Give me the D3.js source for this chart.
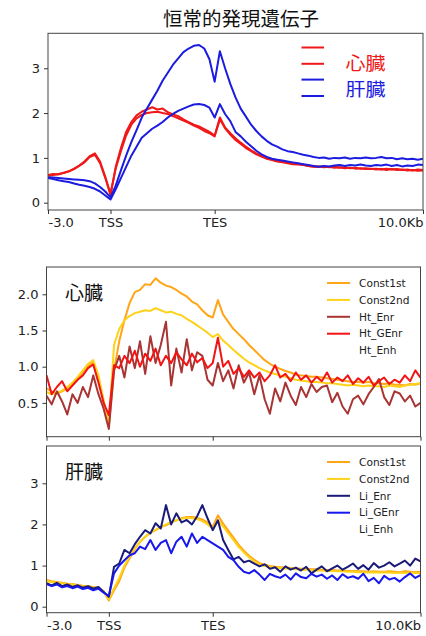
<!DOCTYPE html>
<html>
<head>
<meta charset="utf-8">
<script src="https://cdn.jsdelivr.net/npm/d3@7"></script>
<style>
  body { margin: 0; background: #fff; }
  svg { display: block; }
  .tick text { font-family: "DejaVu Sans", sans-serif; font-size: 13px; fill: #222; }
  .tick line { stroke: #333; }
</style>
</head>
<body>
<svg id="chart" width="426" height="636"></svg>
<script>
// bins (kb) -3 .. 15, step 0.25; TSS = 0, TES = 5
var bins = d3.range(73).map(function(i) { return -3 + i * 0.25; });
var xTickVals = [-3, 0, 5, 15];
var xTickLabels = ["-3.0", "TSS", "TES", "10.0Kb"];

// top panel : 心臓 (red) / 肝臓 (blue)
var topHeart1 = [0.62,0.64,0.63,0.67,0.70,0.75,0.82,0.90,1.02,1.07,0.88,0.55,0.17,0.80,1.22,1.58,
  1.80,1.95,2.03,2.08,2.13,2.08,2.10,2.02,1.97,1.93,1.86,1.80,1.74,1.70,1.64,1.58,
  1.50,1.90,1.68,1.55,1.44,1.34,1.25,1.17,1.10,1.05,1.00,0.96,0.93,0.92,0.90,0.88,
  0.87,0.85,0.82,0.80,0.81,0.79,0.80,0.78,0.79,0.77,0.78,0.76,0.77,0.75,0.76,0.74,
  0.75,0.73,0.75,0.73,0.74,0.72,0.73,0.71,0.72];
var topHeart2 = [0.60,0.62,0.64,0.66,0.70,0.76,0.83,0.92,1.04,1.10,0.92,0.58,0.20,0.76,1.15,1.50,
  1.74,1.88,1.96,2.00,2.02,2.03,2.00,1.98,1.93,1.88,1.83,1.78,1.72,1.67,1.60,1.55,
  1.48,1.86,1.66,1.52,1.40,1.31,1.22,1.15,1.08,1.03,0.98,0.95,0.92,0.90,0.88,0.86,
  0.85,0.84,0.82,0.81,0.80,0.81,0.79,0.80,0.78,0.79,0.77,0.78,0.76,0.77,0.75,0.76,
  0.74,0.76,0.74,0.75,0.73,0.74,0.72,0.74,0.73];
var topLiver1 = [0.57,0.56,0.55,0.54,0.53,0.52,0.51,0.50,0.48,0.43,0.35,0.25,0.12,0.38,0.72,1.05,
  1.35,1.62,1.90,2.10,2.30,2.50,2.72,2.90,3.08,3.22,3.36,3.44,3.50,3.52,3.44,3.20,
  2.70,3.38,3.00,2.65,2.35,2.10,1.92,1.74,1.60,1.48,1.38,1.30,1.25,1.19,1.15,1.13,
  1.10,1.07,1.05,1.02,1.00,1.01,0.98,1.00,0.99,1.01,0.98,1.00,0.99,1.01,0.99,1.00,
  1.02,0.99,1.00,0.97,0.99,0.97,0.98,0.96,0.98];
var topLiver2 = [0.55,0.53,0.50,0.48,0.46,0.43,0.40,0.38,0.35,0.31,0.25,0.16,0.07,0.30,0.55,0.80,
  1.05,1.25,1.45,1.55,1.65,1.72,1.80,1.90,1.98,2.05,2.10,2.15,2.19,2.20,2.18,2.12,
  1.90,2.20,1.98,1.82,1.58,1.48,1.36,1.26,1.16,1.08,1.02,0.98,0.96,0.94,0.92,0.90,
  0.88,0.86,0.84,0.82,0.80,0.82,0.81,0.83,0.84,0.82,0.84,0.83,0.85,0.83,0.82,0.84,
  0.83,0.85,0.82,0.84,0.81,0.83,0.82,0.85,0.84];

// middle panel : 心臓
var htConst1st = [0.70,0.66,0.63,0.66,0.70,0.75,0.84,0.93,1.01,1.06,0.85,0.52,0.19,0.95,1.35,1.64,
  1.88,2.03,2.06,2.14,2.13,2.22,2.16,2.12,2.10,2.06,2.01,1.97,1.90,1.86,1.78,1.71,
  1.68,1.92,1.72,1.62,1.52,1.45,1.38,1.30,1.23,1.16,1.09,1.04,1.00,0.97,0.94,0.92,
  0.89,0.88,0.87,0.86,0.86,0.85,0.84,0.83,0.82,0.81,0.80,0.79,0.79,0.78,0.79,0.77,
  0.77,0.76,0.77,0.75,0.75,0.74,0.76,0.75,0.77];
var htConst2nd = [0.65,0.62,0.64,0.67,0.72,0.78,0.86,0.95,1.04,1.09,0.88,0.54,0.17,1.30,1.52,1.64,
  1.70,1.74,1.76,1.78,1.77,1.81,1.78,1.75,1.76,1.73,1.71,1.66,1.62,1.57,1.52,1.47,
  1.41,1.45,1.36,1.30,1.23,1.17,1.11,1.06,1.02,0.98,0.95,0.92,0.90,0.88,0.86,0.84,
  0.82,0.81,0.80,0.79,0.79,0.78,0.77,0.77,0.76,0.75,0.74,0.75,0.74,0.73,0.74,0.73,
  0.73,0.72,0.74,0.73,0.72,0.74,0.75,0.76,0.77];
var htEnr = [0.60,0.48,0.66,0.52,0.34,0.62,0.50,0.72,0.58,0.88,0.62,0.42,0.14,0.95,1.15,0.85,
  1.28,0.98,1.35,0.90,1.42,1.05,1.30,1.62,0.74,1.25,0.92,1.38,0.95,1.20,1.15,0.82,
  0.74,1.05,0.80,0.95,0.70,1.02,0.78,0.92,0.62,0.88,0.55,0.35,0.70,0.52,0.78,0.60,
  0.47,0.72,0.58,0.76,0.65,0.72,0.74,0.51,0.64,0.45,0.35,0.55,0.60,0.48,0.62,0.72,
  0.83,0.58,0.47,0.66,0.63,0.52,0.60,0.45,0.50];
var htGEnr = [0.88,0.62,0.72,0.80,0.66,0.74,0.82,0.88,0.98,1.03,0.78,0.50,0.33,1.02,0.98,1.15,
  1.05,1.22,1.00,1.18,1.08,1.25,1.02,1.15,1.05,1.20,1.10,1.02,1.18,1.06,1.12,0.98,
  1.05,1.40,1.00,1.08,0.90,0.98,0.86,0.95,0.85,0.92,0.80,0.88,1.02,0.85,0.90,0.80,
  0.92,0.82,0.88,0.78,0.86,0.80,0.92,0.78,0.85,0.80,0.88,0.76,0.84,0.78,0.86,0.74,
  0.80,0.85,0.76,0.82,0.78,0.88,0.80,0.95,0.85];

// bottom panel : 肝臓
var liConst1st = [0.65,0.62,0.60,0.58,0.56,0.55,0.53,0.51,0.50,0.48,0.46,0.38,0.15,0.40,0.62,0.95,
  1.18,1.40,1.58,1.70,1.80,1.86,1.94,1.98,2.05,2.10,2.15,2.18,2.18,2.16,2.12,2.05,
  1.94,2.22,2.02,1.85,1.68,1.50,1.36,1.24,1.14,1.06,1.02,0.99,0.97,0.96,0.95,0.94,
  0.93,0.92,0.92,0.91,0.91,0.90,0.89,0.89,0.88,0.88,0.87,0.87,0.86,0.86,0.85,0.86,
  0.85,0.85,0.86,0.85,0.84,0.86,0.85,0.84,0.85];
var liConst2nd = [0.62,0.60,0.58,0.57,0.55,0.54,0.52,0.50,0.49,0.47,0.45,0.37,0.18,0.45,0.70,1.00,
  1.22,1.42,1.58,1.70,1.80,1.87,1.93,2.00,2.06,2.10,2.14,2.16,2.15,2.13,2.08,2.00,
  1.90,2.10,1.95,1.78,1.62,1.45,1.32,1.20,1.10,1.03,0.99,0.97,0.95,0.94,0.93,0.92,
  0.91,0.90,0.90,0.89,0.88,0.88,0.87,0.87,0.86,0.86,0.85,0.85,0.84,0.84,0.83,0.84,
  0.83,0.84,0.83,0.82,0.83,0.82,0.83,0.82,0.82];
var liEnr = [0.57,0.52,0.58,0.50,0.54,0.48,0.52,0.46,0.50,0.44,0.48,0.36,0.24,0.97,1.05,1.38,
  1.30,1.52,1.70,1.86,1.78,2.03,1.90,2.47,2.00,2.27,2.05,2.11,2.00,2.20,2.47,2.15,
  1.86,2.10,1.62,1.38,1.15,1.21,1.08,1.12,1.05,0.98,1.03,0.92,0.96,0.85,0.98,0.90,
  0.95,0.88,0.97,0.81,0.90,0.98,0.86,0.93,1.00,0.90,0.97,1.05,0.92,1.01,0.90,1.06,
  0.95,1.00,1.08,0.98,1.05,1.12,1.00,1.17,1.10];
var liGEnr = [0.55,0.50,0.54,0.47,0.50,0.45,0.49,0.43,0.46,0.40,0.44,0.34,0.26,0.81,1.00,1.13,
  1.25,1.30,1.46,1.40,1.62,1.38,1.55,1.62,1.30,1.58,1.70,1.46,1.78,1.55,1.70,1.62,
  1.54,1.46,1.38,1.21,1.13,0.97,0.85,0.81,0.89,0.78,0.65,0.80,0.74,0.70,0.78,0.66,
  0.81,0.72,0.69,0.80,0.73,0.78,0.68,0.76,0.65,0.79,0.70,0.74,0.68,0.80,0.62,0.70,
  0.57,0.75,0.66,0.70,0.61,0.72,0.81,0.70,0.77];

var svg = d3.select("#chart");

// title
svg.append("text")
  .attr("x", 241).attr("y", 26)
  .attr("text-anchor", "middle")
  .style("font-family", "'Noto Sans CJK JP', sans-serif")
  .style("font-size", "19.5px")
  .style("fill", "#111")
  .text("恒常的発現遺伝子");

var panels = [
  { left: 48, right: 423, top: 33.3, bottom: 210, yDomain: [-0.163, 3.78], yTicks: [0, 1, 2, 3], yFmt: d3.format("d"), xLabels: true,
    series: [
      { name: "", values: topHeart1, color: "#f01818" },
      { name: "", values: topHeart2, color: "#f01818" },
      { name: "", values: topLiver1, color: "#1c1ce0" },
      { name: "", values: topLiver2, color: "#1c1ce0" }
    ] },
  { left: 46.5, right: 420.5, top: 267, bottom: 436.7, yDomain: [0.033, 2.377], yTicks: [0.5, 1.0, 1.5, 2.0], yFmt: d3.format(".1f"), xLabels: false,
    label: "心臓",
    series: [
      { name: "Const1st", values: htConst1st, color: "#ffa516" },
      { name: "Const2nd", values: htConst2nd, color: "#ffd21a" },
      { name: "Ht_Enr", values: htEnr, color: "#a83434" },
      { name: "Ht_GEnr", values: htGEnr, color: "#f21414" },
      { name: "Ht_Enh", values: null, color: "none" }
    ] },
  { left: 46.5, right: 420.5, top: 446, bottom: 612.7, yDomain: [-0.146, 3.907], yTicks: [0, 1, 2, 3], yFmt: d3.format("d"), xLabels: true,
    label: "肝臓",
    series: [
      { name: "Const1st", values: liConst1st, color: "#ffa516" },
      { name: "Const2nd", values: liConst2nd, color: "#ffd21a" },
      { name: "Li_Enr", values: liEnr, color: "#1a1a78" },
      { name: "Li_GEnr", values: liGEnr, color: "#1818ec" },
      { name: "Li_Enh", values: null, color: "none" }
    ] }
];

panels.forEach(function(p, pi) {
  var x = d3.scaleLinear().domain([-3, 15]).range([p.left, p.right]);
  var y = d3.scaleLinear().domain(p.yDomain).range([p.bottom, p.top]);
  var g = svg.append("g");

  g.append("clipPath").attr("id", "clip" + pi)
    .append("rect")
    .attr("x", p.left).attr("y", p.top)
    .attr("width", p.right - p.left).attr("height", p.bottom - p.top);

  var line = d3.line()
    .x(function(d, i) { return x(bins[i]); })
    .y(function(d) { return y(d); });

  g.append("g").attr("clip-path", "url(#clip" + pi + ")")
    .selectAll("path")
    .data(p.series.filter(function(s) { return s.values; }))
    .enter().append("path")
    .attr("d", function(s) { return line(s.values); })
    .attr("fill", "none")
    .attr("stroke", function(s) { return s.color; })
    .attr("stroke-width", 2)
    .attr("stroke-linejoin", "round");

  // frame
  g.append("rect")
    .attr("x", p.left).attr("y", p.top)
    .attr("width", p.right - p.left).attr("height", p.bottom - p.top)
    .attr("fill", "none").attr("stroke", "#444").attr("stroke-width", 1);

  var yAxis = g.append("g")
    .attr("transform", "translate(" + p.left + ",0)")
    .call(d3.axisLeft(y).tickValues(p.yTicks).tickFormat(p.yFmt).tickSize(4).tickPadding(4));
  yAxis.select(".domain").remove();

  var xAxis = g.append("g")
    .attr("transform", "translate(0," + p.bottom + ")")
    .call(d3.axisBottom(x).tickValues(xTickVals)
      .tickFormat(function(d, i) { return p.xLabels ? xTickLabels[i] : ""; })
      .tickSize(4).tickPadding(4));
  xAxis.select(".domain").remove();
  xAxis.selectAll(".tick text")
    .attr("text-anchor", function(d, i) { return i == 0 ? "start" : (i == xTickVals.length - 1 ? "end" : "middle"); });

  if (p.label) {
    g.append("text")
      .attr("x", p.left + 18.5).attr("y", p.top + 33)
      .style("font-family", "'Noto Sans CJK JP', sans-serif")
      .style("font-size", "19px")
      .style("fill", "#111")
      .text(p.label);

    // legend
    var leg = g.append("g");
    p.series.forEach(function(s, i) {
      var ly = p.top + 16 + i * 16.9;
      leg.append("line")
        .attr("x1", p.right - 93.5).attr("x2", p.right - 70.5)
        .attr("y1", ly).attr("y2", ly)
        .attr("stroke", s.color).attr("stroke-width", 2);
      leg.append("text")
        .attr("x", p.right - 61.5).attr("y", ly)
        .attr("dy", "0.35em")
        .style("font-family", "'DejaVu Sans', sans-serif")
        .style("font-size", "10.6px")
        .style("fill", "#222")
        .text(s.name);
    });
  }
});

// top legend
var topLegLines = [
  { y: 47.5, color: "#f01818" },
  { y: 63.8, color: "#f01818" },
  { y: 79.6, color: "#1c1ce0" },
  { y: 96, color: "#1c1ce0" }
];
var topLegLabels = [
  { name: "心臓", color: "#f01818", y: 69.8 },
  { name: "肝臓", color: "#1c1ce0", y: 96 }
];
topLegLines.forEach(function(d) {
  svg.append("line")
    .attr("x1", 301.5).attr("x2", 324)
    .attr("y1", d.y).attr("y2", d.y)
    .attr("stroke", d.color).attr("stroke-width", 2);
});
topLegLabels.forEach(function(d) {
  svg.append("text")
    .attr("x", 345.5).attr("y", d.y)
    .attr("textLength", 40)
    .attr("lengthAdjust", "spacingAndGlyphs")
    .style("font-family", "'Noto Sans CJK JP', sans-serif")
    .style("font-size", "18px")
    .style("fill", d.color)
    .text(d.name);
});
</script>
</body>
</html>
